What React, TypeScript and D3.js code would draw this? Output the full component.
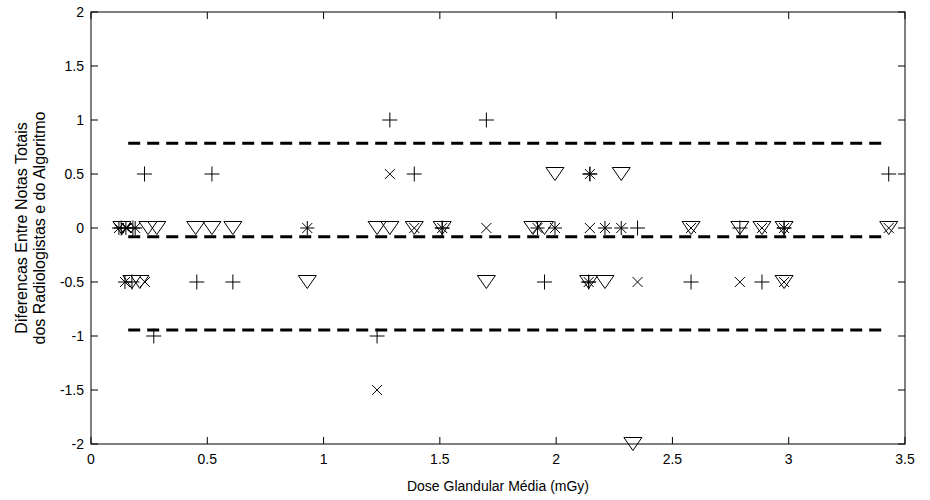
import React from "react";
import * as d3 from "d3";

// differences per radiologist symbol: [dose (mGy), difference]
const plusPts: [number, number][] = [
  [0.23, 0.5], [0.52, 0.5], [1.285, 1], [1.39, 0.5], [1.7, 1], [2.145, 0.5], [3.43, 0.5],
  [0.13, 0], [0.18, 0], [1.51, 0], [2.35, 0], [2.79, 0], [2.98, 0],
  [0.176, -0.5], [0.455, -0.5], [0.61, -0.5], [1.95, -0.5], [2.14, -0.5], [2.58, -0.5], [2.885, -0.5],
  [0.27, -1], [1.23, -1],
];
const crossPts: [number, number][] = [
  [1.285, 0.5], [0.155, 0], [1.39, 0], [1.7, 0], [2.145, 0], [2.58, 0], [2.885, 0], [3.43, 0],
  [0.232, -0.5], [2.35, -0.5], [2.79, -0.5], [2.98, -0.5], [1.23, -1.5],
];
const triPts: [number, number][] = [
  [1.995, 0.5], [2.28, 0.5],
  [0.133, 0], [0.245, 0], [0.283, 0], [0.45, 0], [0.52, 0], [0.61, 0], [1.23, 0], [1.285, 0],
  [1.39, 0], [1.51, 0], [1.9, 0], [1.95, 0], [2.58, 0], [2.79, 0], [2.885, 0], [2.98, 0], [3.43, 0],
  [0.176, -0.5], [0.21, -0.5], [0.93, -0.5], [1.7, -0.5], [2.14, -0.5], [2.21, -0.5], [2.98, -0.5],
  [2.33, -2],
];
const starPts: [number, number][] = [
  [2.145, 0.5], [0.12, 0], [0.15, 0], [0.19, 0], [0.93, 0], [1.51, 0], [1.92, 0], [1.995, 0],
  [2.21, 0], [2.28, 0], [2.98, 0], [0.146, -0.5], [2.14, -0.5],
];

// mean and limits of agreement
const refLines = [0.785, -0.08, -0.945];
const refSpan = [0.16, 3.42];

const xTicks = [0, 0.5, 1, 1.5, 2, 2.5, 3, 3.5];
const yTicks = [-2, -1.5, -1, -0.5, 0, 0.5, 1, 1.5, 2];

const W = 930, H = 500;
const margin = { top: 12, right: 25, bottom: 56, left: 91 };

const plusPath = (r: number) => `M${-r},0H${r}M0,${-r}V${r}`;
const xPath = (r: number) => `M${-r},${-r}L${r},${r}M${-r},${r}L${r},${-r}`;
const triPath = () => `M-9,-6.5H9L0,6.5Z`;
const starPath = () => plusPath(7) + xPath(5);

export default function App() {
  const x = d3.scaleLinear().domain([0, 3.5]).range([margin.left, W - margin.right]);
  const y = d3.scaleLinear().domain([-2, 2]).range([H - margin.bottom, margin.top]);
  const [x0, x1] = x.range();
  const [y0, y1] = y.range();
  const font = "'Liberation Sans', Arial, sans-serif";
  const fs = 14;
  const tk = 7;

  const series = [
    { pts: plusPts, d: plusPath(7.5) },
    { pts: crossPts, d: xPath(5) },
    { pts: triPts, d: triPath() },
    { pts: starPts, d: starPath() },
  ];

  return (
    <svg width={W} height={H} style={{ position: "absolute", left: 0, top: 0, background: "#fff" }}>
      <rect x={0} y={0} width={W} height={H} fill="#fff" />
      {/* axes box */}
      <rect x={x0} y={y1} width={x1 - x0} height={y0 - y1} fill="none" stroke="#000" strokeWidth={1} />
      {xTicks.map((t) => (
        <g key={"x" + t}>
          <line x1={x(t)} x2={x(t)} y1={y0} y2={y0 - tk} stroke="#000" />
          <line x1={x(t)} x2={x(t)} y1={y1} y2={y1 + tk} stroke="#000" />
          <text x={x(t)} y={y0 + 20} textAnchor="middle" fontFamily={font} fontSize={fs}>{t}</text>
        </g>
      ))}
      {yTicks.map((t) => (
        <g key={"y" + t}>
          <line x1={x0} x2={x0 + tk} y1={y(t)} y2={y(t)} stroke="#000" />
          <line x1={x1} x2={x1 - tk} y1={y(t)} y2={y(t)} stroke="#000" />
          <text x={x0 - 7} y={y(t) + 5} textAnchor="end" fontFamily={font} fontSize={fs}>{t}</text>
        </g>
      ))}
      {/* reference lines */}
      {refLines.map((v) => (
        <line key={"r" + v} x1={x(refSpan[0])} x2={x(refSpan[1])} y1={y(v)} y2={y(v)}
          stroke="#000" strokeWidth={3} strokeDasharray="12 7" />
      ))}
      {/* markers */}
      {series.map((s, i) => (
        <g key={"s" + i}>
          {s.pts.map(([dx, dy], j) => (
            <path key={j} d={s.d} transform={`translate(${x(dx)},${y(dy)})`}
              fill="none" stroke="#000" strokeWidth={1} />
          ))}
        </g>
      ))}
      {/* labels */}
      <text x={(x0 + x1) / 2} y={H - 9} textAnchor="middle" fontFamily={font} fontSize={fs}>
        Dose Glandular Média (mGy)
      </text>
      <text transform={`translate(27,${(y0 + y1) / 2}) rotate(-90)`} textAnchor="middle" fontFamily={font} fontSize={16}>
        <tspan x={0} dy={0}>Diferencas Entre Notas Totais</tspan>
        <tspan x={0} dy={18}>dos Radiologistas e do Algoritmo</tspan>
      </text>
    </svg>
  );
}
